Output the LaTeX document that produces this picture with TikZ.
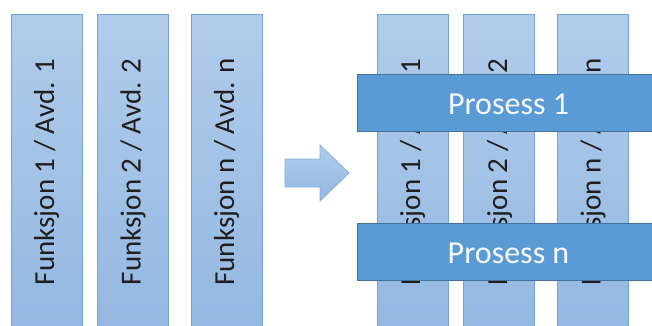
\documentclass[tikz,border=0pt]{standalone}
\usepackage{fontspec}
\setmainfont{Carlito}
\begin{document}
\definecolor{colTop}{HTML}{B1CCEA}
\definecolor{colBot}{HTML}{94B8E2}
\definecolor{colEdge}{HTML}{6FA4DB}
\definecolor{barFill}{HTML}{5B9BD5}
\definecolor{barEdge}{HTML}{44729E}
\definecolor{arrEdge}{HTML}{86B2DF}
\begin{tikzpicture}[x=1pt,y=-1pt,
  colbox/.style={draw=colEdge, line width=0.8pt, top color=colTop, bottom color=colBot,
    minimum width=71pt, minimum height=316pt, anchor=north west, inner sep=0pt},
  coltext/.style={rotate=90, font=\fontsize{29}{29}\selectfont, text=black!88, inner sep=0pt},
  barbox/.style={draw=barEdge, line width=0.9pt, fill=barFill, minimum height=57pt,
    minimum width=320pt, anchor=north west, inner sep=0pt},
  bartext/.style={font=\fontsize{32}{32}\selectfont, text=white!94!barFill, inner sep=0pt}]
\clip (0,0) rectangle (652,326);
\fill[white] (0,0) rectangle (652,326);

% functional columns, left view
\node[colbox] (l1) at (11,14) {};
\node[colbox] (l2) at (97,14) {};
\node[colbox] (l3) at (191,14) {};
\node[coltext] (tl1) at (46.5,172) {Funksjon 1 / Avd. 1};
\node[coltext] (tl2) at (133,172) {Funksjon 2 / Avd. 2};
\node[coltext] (tl3) at (226.5,172) {Funksjon n / Avd. n};

% transition arrow
\shade[top color=colTop, bottom color=colBot, draw=arrEdge, line width=0.8pt]
  (285,159) -- (320,159) -- (320,145) -- (349,173) -- (320,201) -- (320,187) -- (285,187) -- cycle;

% functional columns, right view
\node[colbox] (r1) at (377,14) {};
\node[colbox] (r2) at (463,14) {};
\node[colbox] (r3) at (557,14) {};
\node[coltext] (tr1) at (412.5,172) {Funksjon 1 / Avd. 1};
\node[coltext] (tr2) at (499.5,172) {Funksjon 2 / Avd. 2};
\node[coltext] (tr3) at (593,172) {Funksjon n / Avd. n};

% cross-functional processes
\node[barbox] (p1) at (357,74) {};
\node[barbox] (pn) at (357,223) {};
\node[bartext] (tp1) at (508.5,104) {Prosess 1};
\node[bartext] (tpn) at (508.5,253) {Prosess n};
\end{tikzpicture}
\end{document}
